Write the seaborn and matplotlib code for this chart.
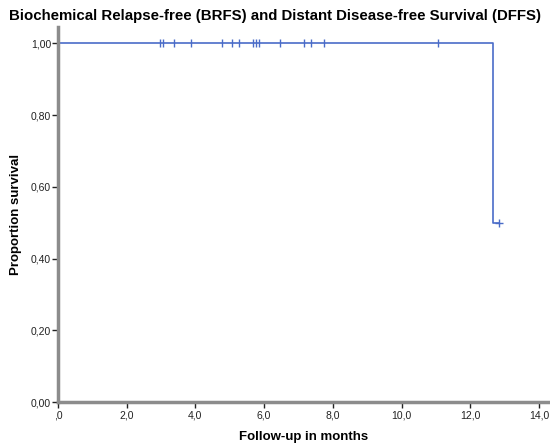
import numpy as np
import pandas as pd
import matplotlib
matplotlib.use("Agg")
import matplotlib.pyplot as plt
import seaborn as sns

# ---- data ----
censor_times = [2.98, 3.07, 3.38, 3.88, 4.77, 5.07, 5.26, 5.68, 5.76, 5.84,
                6.47, 7.15, 7.37, 7.75, 11.05, 12.85]
event_times = [12.65]
x_ticks = [0, 2, 4, 6, 8, 10, 12, 14]
x_tick_labels = [",0", "2,0", "4,0", "6,0", "8,0", "10,0", "12,0", "14,0"]
y_ticks = [0.0, 0.2, 0.4, 0.6, 0.8, 1.0]
y_tick_labels = ["0,00", "0,20", "0,40", "0,60", "0,80", "1,00"]

# ---- Kaplan-Meier estimate from the data ----
times = np.array(censor_times + event_times)
events = np.array([0] * len(censor_times) + [1] * len(event_times))
order = np.argsort(times, kind="stable")
times, events = times[order], events[order]
n_at_risk = len(times)
s = 1.0
step_t, step_s = [0.0], [1.0]
cens_t, cens_s = [], []
for t, e in zip(times, events):
    if e == 1:
        s *= (n_at_risk - 1) / n_at_risk
        step_t.append(t)
        step_s.append(s)
    else:
        cens_t.append(t)
        cens_s.append(s)
    n_at_risk -= 1
step_t.append(times.max())
step_s.append(s)
curve = pd.DataFrame({"time": step_t, "surv": step_s})
cens = pd.DataFrame({"time": cens_t, "surv": cens_s})

sns.set_style("white")
plt.rcParams["font.family"] = ["Liberation Sans", "DejaVu Sans"]

fig = plt.figure(figsize=(5.5, 4.43), dpi=100)
ax = fig.add_axes([58 / 550, 41 / 443, 492 / 550, 375 / 443])

line_color = "#4a6cc8"
sns.lineplot(data=curve, x="time", y="surv", drawstyle="steps-post",
             color=line_color, lw=1.2, ax=ax, estimator=None)
main = cens[cens["time"] < 12]
last = cens[cens["time"] >= 12]
sns.scatterplot(data=main, x="time", y="surv", marker="|", s=40,
                color=line_color, linewidth=1.0, ax=ax)
sns.scatterplot(data=last, x="time", y="surv", marker="+", s=40,
                color=line_color, linewidth=1.0, ax=ax)

ax.set_xlim(0, 14.32)
ax.set_ylim(0, 1.046)
ax.set_xticks(x_ticks)
ax.set_xticklabels(x_tick_labels)
ax.set_yticks(y_ticks)
ax.set_yticklabels(y_tick_labels)
ax.tick_params(axis="both", which="major", bottom=True, left=True,
               direction="out", length=4, width=1,
               color="#222222", labelsize=7.5, pad=1, labelcolor="#222222")
ax.tick_params(axis="x", pad=2)

for side in ["top", "right"]:
    ax.spines[side].set_visible(False)
for side in ["left", "bottom"]:
    ax.spines[side].set_color("#8c8c8c")
    ax.spines[side].set_linewidth(2.5)

ax.set_xlabel("Follow-up in months", fontsize=9.5, fontweight="bold", labelpad=8,
              color="black")
ax.set_ylabel("Proportion survival", fontsize=9.5, fontweight="bold", labelpad=6,
              color="black")
fig.text(0.5, 1 - 16 / 443, "Biochemical Relapse-free (BRFS) and Distant Disease-free Survival (DFFS)",
         ha="center", va="center", fontsize=10.8, fontweight="bold", color="black")

fig.savefig("out.png", dpi=100)
